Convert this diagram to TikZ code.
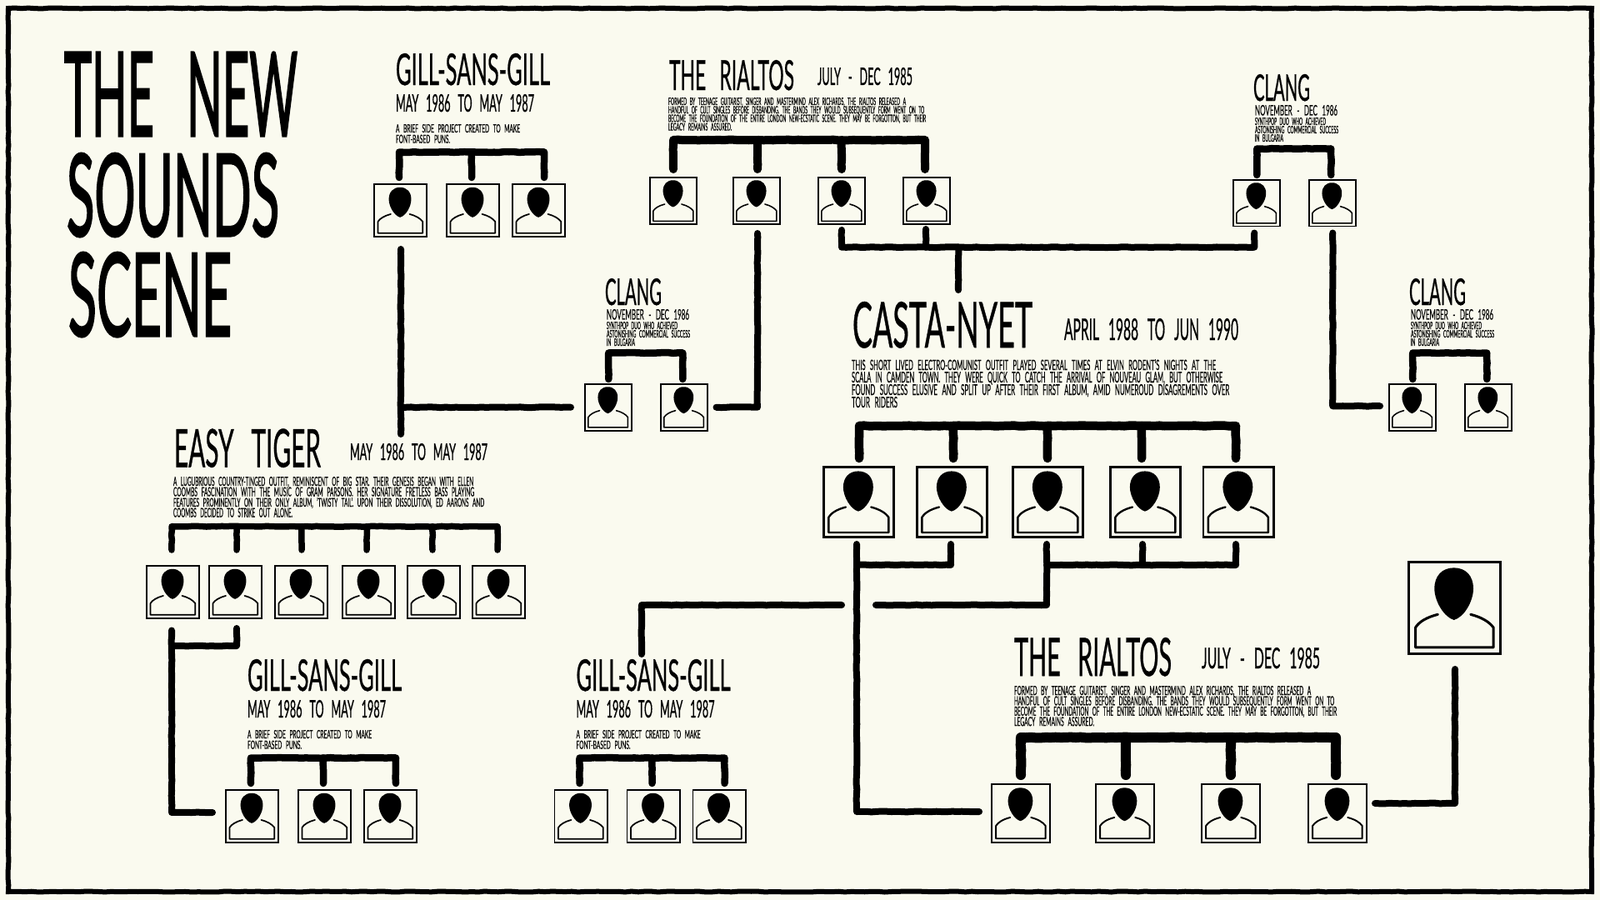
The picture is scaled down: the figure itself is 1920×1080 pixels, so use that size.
\documentclass[tikz,border=0pt]{standalone}
\usepackage{graphicx}
\usepackage{fontspec}
\usetikzlibrary{calc,decorations.pathmorphing}
\setmainfont[FakeBold=0.5]{Lato}
\newfontfamily\headf[FakeBold=0.8]{Lato}
\newfontfamily\titlef[FakeBold=2.2]{Lato}
\definecolor{paper}{HTML}{FAFAEF}
\newlength\blkW \newlength\blkH \newlength\blkG
\newcommand\fl[2]{\setlength\blkW{#1pt}\setlength\blkW{0.5\blkW}\setbox0=\hbox{\resizebox{\blkW}{\blkH}{\spaceskip=.7em #2}}\dp0=0pt \box0 \vskip\blkG}
% name x y lineheight pitch lines
\newcommand\block[6]{\node[txt] (#1) at (#2,#3) {\setlength\blkH{#4pt}\setlength\blkH{0.5\blkH}\setlength\blkG{\dimexpr #5pt/2-\blkH\relax}\vbox{\offinterlineskip #6}};}
% name x y w h font text
\newcommand\tline[7]{\node[txt] (#1) at (#2,#3) {\setlength\blkH{#5pt}\setlength\blkH{0.5\blkH}\setlength\blkG{0pt}\vbox{\offinterlineskip #6\fl{#4}{#7}}};}
% name left top size
\newcommand\person[4]{%
  \pgfmathsetmacro\sz{#4*0.5}\pgfmathsetmacro\lw{max(1.9,min(#4*0.03,3.4))}%
  \node[pbox,line width=\lw*0.5pt,minimum size={(#4-\lw)*0.5pt}] (#1) at (#2+#4/2,#3+#4/2) {};
  \begin{scope}[shift={(#2,#3)},x=\sz pt,y=-\sz pt]
    \fill (0.493,0.074) .. controls (0.62,0.074) and (0.699,0.16) .. (0.699,0.295)
      .. controls (0.699,0.43) and (0.6,0.6) .. (0.493,0.628)
      .. controls (0.39,0.6) and (0.286,0.43) .. (0.286,0.295)
      .. controls (0.286,0.16) and (0.366,0.074) .. (0.493,0.074) -- cycle;
    \draw[line width=\sz*0.027pt,line join=round,line cap=round] (0.322,0.569) .. controls (0.2,0.6) and (0.12,0.65) .. (0.085,0.708)
      -- (0.085,0.92) -- (0.912,0.92) -- (0.912,0.708) .. controls (0.87,0.65) and (0.79,0.6) .. (0.67,0.569);
  \end{scope}}
% lw bary gap first dx last dx
\newcommand\bracket[7]{%
  \coordinate (bar) at (0,#2);
  \coordinate (ba) at ($(#4.north)+(#5,-#3)$);
  \coordinate (bb) at ($(#6.north)+(#7,-#3)$);
  \draw[conn,line width=#1*0.5pt] (ba)--(ba|-bar)--(bb|-bar)--(bb);}
\newcommand\brtick[4]{\coordinate (bm) at ($(#3.north)+(#4,-#2)$);\draw[conn,line width=#1*0.5pt] (bm)--(bm|-bar);}
% Gill group
\newcommand\gillgroup[3]{%
  \tline{#1t}{475+#2}{64+#3}{185}{38}{\headf}{GILL-SANS-GILL}
  \tline{#1d}{475+#2}{113+#3}{166}{21}{\headf}{MAY 1986 TO MAY 1987}
  \block{#1p}{475+#2}{149+#3}{10}{12.7}{\fl{149}{A BRIEF SIDE PROJECT CREATED TO MAKE}\fl{65}{FONT-BASED PUNS.}}
  \person{#1a}{448+#2}{220+#3}{65}
  \person{#1b}{535+#2}{220+#3}{65}
  \person{#1c}{614+#2}{220+#3}{65}
  \bracket{8.5}{182.5+#3}{7}{#1a}{-1.5}{#1c}{6.5}
  \brtick{8.5}{7}{#1b}{-1.5}}
% Clang group
\newcommand\clanggroup[3]{%
  \tline{#1t}{1504+#2}{89+#3}{68}{32}{\headf}{CLANG}
  \tline{#1d}{1506+#2}{126+#3}{99}{12.5}{}{NOVEMBER - DEC 1986}
  \block{#1p}{1506+#2}{141+#3}{9}{10}{\fl{85}{SYNTHPOP DUO WHO ACHIEVED}\fl{100}{ASTONISHING COMMERCIAL SUCCESS}\fl{34}{IN BULGARIA}}
  \person{#1a}{1479+#2}{215+#3}{57.5}
  \person{#1b}{1570+#2}{215+#3}{57.5}
  \bracket{8.5}{178.5+#3}{5}{#1a}{0.5}{#1b}{-1.5}}
\tikzset{
  txt/.style={anchor=north west,inner sep=0pt,outer sep=0pt},
  pbox/.style={draw=black,rectangle,inner sep=0pt},
  conn/.style={draw=black,line cap=round,line join=round,decorate,decoration={random steps,segment length=3pt,amplitude=.2pt}},
  link/.style={conn,line width=4pt}
}
\begin{document}
\begin{tikzpicture}[x=0.5pt,y=-0.5pt]
\useasboundingbox (0,0) rectangle (1920,1080);
\fill[paper] (0,0) rectangle (1920,1080);
\draw[black,line width=3pt,decorate,decoration={random steps,segment length=4pt,amplitude=.25pt}] (10,10) -- (1910,10) -- (1910,1070) -- (10,1070) -- cycle;

% main title
\tline{tA}{77}{63}{280}{100}{\titlef}{THE NEW}
\tline{tB}{80}{184}{255}{99}{\titlef}{SOUNDS}
\tline{tC}{82}{303}{196}{100}{\titlef}{SCENE}

% Gill groups
\gillgroup{ga}{0}{0}
\gillgroup{gb}{-178}{727}
\gillgroup{gc}{216.5}{727}

% Clang groups
\clanggroup{ca}{0}{0}
\clanggroup{cb}{187}{245}
\clanggroup{cc}{-778}{245}

% Rialtos, upper
\tline{rat}{803}{72}{150}{36}{\headf}{THE RIALTOS}
\tline{rad}{981}{81}{114}{21}{\headf}{JULY - DEC 1985}
\block{rap}{802}{117}{9}{10.2}{\fl{285}{FORMED BY TEENAGE GUITARIST, SINGER AND MASTERMIND ALEX RICHARDS, THE RIALTOS RELEASED A}\fl{307}{HANDFUL OF CULT SINGLES BEFORE DISBANDING. THE BANDS THEY WOULD SUBSEQUENTLY FORM WENT ON TO}\fl{309}{BECOME THE FOUNDATION OF THE ENTIRE LONDON NEW-ECSTATIC SCENE. THEY MAY BE FORGOTTON, BUT THEIR}\fl{76}{LEGACY REMAINS ASSURED.}}
\person{raa}{779}{212}{58}
\person{rab}{879}{212}{58}
\person{rac}{981}{212}{58}
\person{rad2}{1083}{212}{58}
\bracket{10}{168}{9}{raa}{0}{rad2}{-2}
\brtick{10}{9}{rab}{1}
\brtick{10}{9}{rac}{0}

% Casta-Nyet
\tline{cnt}{1023}{362}{216}{55}{\headf}{CASTA-NYET}
\tline{cnd}{1277}{382}{209}{26}{\headf}{APRIL 1988 TO JUN 1990}
\block{cnp}{1022}{431}{13}{15}{\fl{437}{THIS SHORT LIVED ELECTRO-COMUNIST OUTFIT PLAYED SEVERAL TIMES AT ELVIN RODENT'S NIGHTS AT THE}\fl{445}{SCALA IN CAMDEN TOWN. THEY WERE QUICK TO CATCH THE ARRIVAL OF NOUVEAU GLAM, BUT OTHERWISE}\fl{453}{FOUND SUCCESS ELUSIVE AND SPLIT UP AFTER THEIR FIRST ALBUM, AMID NUMEROUD DISAGREMENTS OVER}\fl{55}{TOUR RIDERS}}
\person{na}{987}{559}{87}
\person{nb}{1099}{559}{87}
\person{nc}{1214}{559}{87}
\person{nd}{1331}{559}{87}
\person{ne}{1442.5}{559}{87}
\bracket{10.5}{511}{9}{na}{0.5}{ne}{-3}
\brtick{10.5}{9}{nb}{1.5}
\brtick{10.5}{9}{nc}{-0.5}
\brtick{10.5}{9}{nd}{-4.5}

% Easy Tiger
\tline{ett}{209}{514.5}{176}{46}{\headf}{EASY TIGER}
\tline{etd}{420}{532}{165}{20}{\headf}{MAY 1986 TO MAY 1987}
\block{etp}{208}{572}{11}{12.5}{\fl{360}{A LUGUBRIOUS COUNTRY-TINGED OUTFIT, REMINISCENT OF BIG STAR. THEIR GENESIS BEGAN WITH ELLEN}\fl{361}{COOMBS FASCINATION WITH THE MUSIC OF GRAM PARSONS. HER SIGNATURE FRETLESS BASS PLAYING}\fl{373}{FEATURES PROMINENTLY ON THEIR ONLY ALBUM, 'TWISTY TAIL'. UPON THEIR DISSOLUTION, ED AARONS AND}\fl{143}{COOMBS DECIDED TO STRIKE OUT ALONE.}}
\person{ea}{175}{678}{65}
\person{eb}{250}{678}{65}
\person{ec}{329}{678}{65}
\person{ed}{410}{678}{65}
\person{ee}{488}{678}{65}
\person{ef}{566}{678}{65}
\bracket{7.5}{631.7}{18}{ea}{-1.5}{ef}{-1.5}
\brtick{7.5}{18}{eb}{1.5}
\brtick{7.5}{18}{ec}{0.5}
\brtick{7.5}{18}{ed}{-2.5}
\brtick{7.5}{18}{ee}{-1.5}

% Rialtos, lower
\tline{rbt}{1217}{765}{189}{46}{\headf}{THE RIALTOS}
\tline{rbd}{1442}{777}{142}{25}{\headf}{JULY - DEC 1985}
\block{rbp}{1217}{823}{11}{12.4}{\fl{356}{FORMED BY TEENAGE GUITARIST, SINGER AND MASTERMIND ALEX RICHARDS, THE RIALTOS RELEASED A}\fl{384}{HANDFUL OF CULT SINGLES BEFORE DISBANDING. THE BANDS THEY WOULD SUBSEQUENTLY FORM WENT ON TO}\fl{387}{BECOME THE FOUNDATION OF THE ENTIRE LONDON NEW-ECSTATIC SCENE. THEY MAY BE FORGOTTON, BUT THEIR}\fl{96}{LEGACY REMAINS ASSURED.}}
\person{ba1}{1189}{940}{72}
\person{ba2}{1314}{940}{72}
\person{ba3}{1441}{940}{72}
\person{ba4}{1569}{940}{72}
\bracket{12}{885}{10}{ba1}{0}{ba4}{-2}
\brtick{12}{10}{ba2}{1}
\brtick{12}{10}{ba3}{0}

% lone portrait
\person{lone}{1689}{673}{113}

% long links
\coordinate (a1) at ($(gaa.south)+(0.5,14)$);
\coordinate (a2) at (a1|-0,521);
\coordinate (a3) at ($(cca.west)+(-16,0)$);
\draw[link] (a1)--(a2);
\draw[link] (a1|-a3)--(a3);

\coordinate (b1) at ($(ccb.east)+(10,0)$);
\coordinate (b2) at ($(rab.south)+(1,10)$);
\draw[link] (b1)-|(b2);

\coordinate (c0) at (0,296.7);
\coordinate (c1) at ($(rac.south)+(0,6)$);
\coordinate (c2) at ($(rad2.south)+(-1,5)$);
\coordinate (c3) at ($(caa.south)+(-2.5,7)$);
\coordinate (c4) at (1150,348);
\draw[link] (c1)--(c1|-c0)--(c3|-c0)--(c3);
\draw[link] (c2)--(c2|-c0);
\draw[link] (c4)--(c4|-c0);

\coordinate (d1) at ($(cab.south)+(0.5,7)$);
\coordinate (d2) at ($(cba.west)+(-10,-1.5)$);
\draw[link] (d1)|-(d2);

\coordinate (e0) at (0,678);
\coordinate (e1) at ($(na.south)+(-2.5,7)$);
\coordinate (e2) at ($(ba1.west)+(-14,-2)$);
\coordinate (e3) at ($(nb.south)+(-1.5,7)$);
\draw[link] (e1)|-(e2);
\draw[link] (e3)--(e3|-e0)--(e1|-e0);

\coordinate (f1) at ($(nc.south)+(-1.5,7)$);
\coordinate (f2) at (1051,726);
\coordinate (f3) at ($(nd.south)+(-3.5,7)$);
\coordinate (f4) at ($(ne.south)+(-3,7)$);
\draw[link] (f1)|-(f2);
\draw[link] (f1|-e0)--(f4|-e0)--(f4);
\draw[link] (f3)--(f3|-e0);

\coordinate (h1) at (1010,726);
\coordinate (h2) at (770,785);
\draw[link] (h1)-|(h2);

\coordinate (i0) at (0,775);
\coordinate (i1) at ($(ea.south)+(-1.5,13.5)$);
\coordinate (i2) at ($(gba.west)+(-15,-4.5)$);
\coordinate (i3) at ($(eb.south)+(1.5,11)$);
\draw[link] (i1)|-(i2);
\draw[link] (i3)--(i3|-i0)--(i1|-i0);

\coordinate (j1) at ($(ba4.east)+(9,-12)$);
\coordinate (j2) at ($(lone.south)+(0.5,17)$);
\draw[link] (j1)-|(j2);
\end{tikzpicture}
\end{document}
